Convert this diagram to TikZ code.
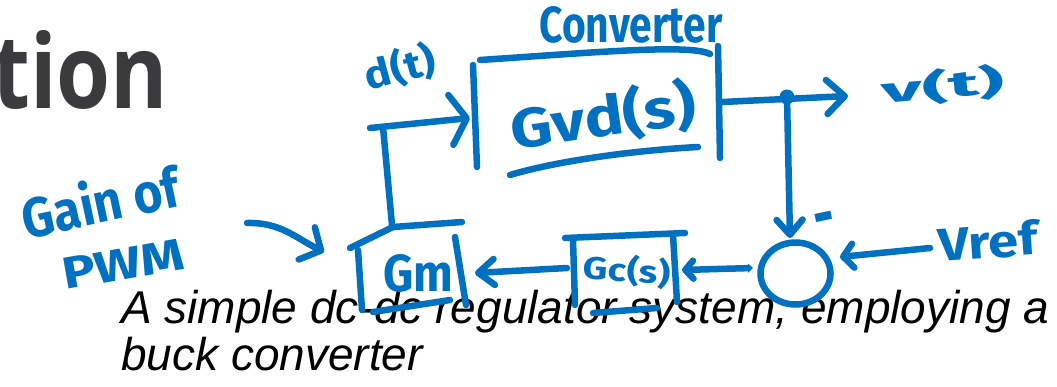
\documentclass[tikz,border=0pt]{standalone}
\usepackage{fontspec}
\usepackage{graphicx}
\setmainfont{Liberation Sans}
\newfontfamily\titlefont{Open Sans}
\newfontfamily\hw{Fira Sans}
\usetikzlibrary{arrows.meta,shapes.geometric}
\definecolor{ink}{HTML}{0070C0}
\definecolor{titlegray}{HTML}{3B3B3D}
\begin{document}
\begin{tikzpicture}[x=1pt,y=-1pt,
  pen/.style={draw=ink,line width=6.5pt,line cap=round,line join=round},
  hwlabel/.style={inner sep=0pt,text=ink,font=\hw\bfseries},
  captext/.style={anchor=base west,inner sep=0pt,font=\fontsize{46}{47}\selectfont\itshape},
  barbtip/.style n args={2}{-{Straight Barb[length=#1pt,width=#2pt,round]}}
]
\useasboundingbox (0,0) rectangle (1057,386);

% title fragment and caption
\node[anchor=south west,inner sep=0pt,text=titlegray] (title) at (-8,110)
  {\resizebox{176pt}{78pt}{\titlefont\bfseries tion}};
\node[captext] (cap1) at (121,323) {A simple dc-dc regulator system, employing a};
\node[captext] (cap2) at (121,370) {buck converter};

% converter box Gvd(s)
\draw[pen] (480,60) .. controls (600,52) and (690,44) .. (710,54);
\draw[pen] (473,65) -- (477,167);
\draw[pen] (718,46) -- (720,158);
\draw[pen] (510,175) .. controls (560,160) and (640,150) .. (698,147);
\node[hwlabel] (convlbl) at (631,25) {\resizebox{183pt}{36pt}{Converter}};
\node[hwlabel,rotate=8] (gvd) at (603,117) {\resizebox*{187pt}{56pt}{Gvd(s)}};

% Gm box
\draw[pen] (350,248) -- (393,227) -- (462,222);
\draw[pen] (358,250) -- (362,310);
\draw[pen] (455,237) -- (466,305);
\draw[pen] (373,312) -- (450,300);
\node[hwlabel] (gm) at (418,273) {\resizebox{70pt}{37pt}{Gm}};

% Gc box
\draw[pen] (565,238) -- (685,233);
\draw[pen] (573,240) -- (575,305);
\draw[pen] (673,235) -- (677,302);
\draw[pen] (593,313) -- (657,308);
\node[hwlabel,rotate=-4] (gc) at (627,271) {\resizebox*{87pt}{32pt}{Gc(s)}};

% summing junction
\node[ellipse,draw=ink,line width=6.5pt,minimum width=70pt,minimum height=62pt,inner sep=0pt] (sum) at (795.5,273.5) {};
\node[hwlabel,rotate=12] (minus) at (825,225) {\scalebox{1}[2]{\fontsize{34}{34}\selectfont –}};

% named connection points
\coordinate (gvdin) at (470,118);
\coordinate (fbleft) at (370,128);
\coordinate (fbcorner) at (383,127);
\coordinate (gmtop) at (392,225);
\coordinate (gvdout) at (722,102);
\coordinate (vout) at (848,96);
\coordinate (sumtop) at (790,238);
\coordinate (sumleft) at (753,268);
\coordinate (sumright) at (840,257);
\coordinate (vrefend) at (930,248);
\coordinate (gcin) at (682,270);
\coordinate (gcout) at (567,268);
\coordinate (gmin) at (475,273);
\coordinate (gainstart) at (247,223);
\coordinate (gainend) at (324,252);

% connectors
\draw[pen] (gmtop) -- (fbcorner);
\draw[pen,barbtip={16}{50}] (fbleft) -- (gvdin);
\draw[pen,barbtip={18}{34}] (gvdout) -- (vout);
\node[circle,fill=ink,inner sep=0pt,minimum size=15pt] (junc) at (787,97) {};
\draw[pen,barbtip={15}{26}] (junc) -- (sumtop);
\draw[pen,barbtip={10}{24}] (vrefend) -- (sumright);
\draw[pen,{Straight Barb[length=8pt,width=18pt,round]}-{Triangle[length=5pt,width=9pt]}] (gcin) -- (sumleft);
\draw[pen,barbtip={16}{26}] (gcout) -- (gmin);
\draw[pen,barbtip={16}{36}] (gainstart) .. controls (280,222) and (296,238) .. (gainend);

% handwritten labels
\node[hwlabel,rotate=15] (dt) at (400,68) {\resizebox*{72pt}{40pt}{d(t)}};
\node[hwlabel,rotate=5] (vt) at (943,86) {\resizebox*{124pt}{36pt}{v(t)}};
\node[hwlabel,rotate=4] (vref) at (988,241) {\resizebox{100pt}{35pt}{Vref}};
\node[hwlabel,rotate=12] (gain1) at (100,201) {\resizebox{160pt}{45pt}{Gain of}};
\node[hwlabel,rotate=10] (gain2) at (123,264) {\resizebox{123pt}{31pt}{PWM}};
\end{tikzpicture}
\end{document}
